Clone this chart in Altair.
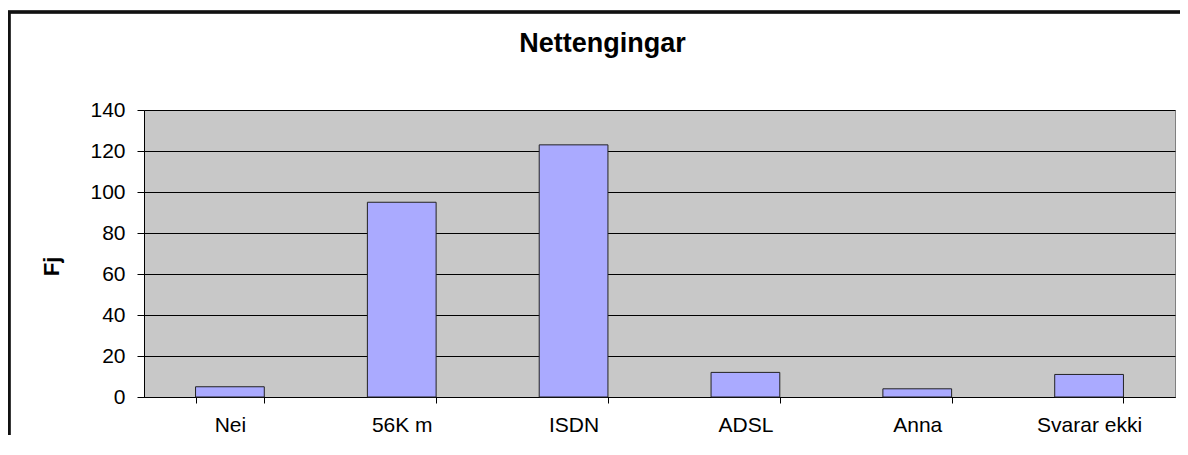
import altair as alt
import pandas as pd

categories = ["Nei", "56K m", "ISDN", "ADSL", "Anna", "Svarar ekki"]
values = [5, 95, 123, 12, 4, 11]
y_ticks = [0, 20, 40, 60, 80, 100, 120, 140]

df = pd.DataFrame({"kat": categories, "fj": values})

W, H = 1031, 287

bars = alt.Chart(df).mark_bar(
    fill="#AAAAFF", stroke="#222222", strokeWidth=1
).encode(
    x=alt.X("kat:N", sort=categories,
            scale=alt.Scale(paddingInner=0.6, paddingOuter=0.3),
            axis=alt.Axis(title=None, labelAngle=0, tickBand="extent",
                          labelFontSize=21, labelPadding=11, tickSize=6,
                          labelColor="#000", tickColor="#000", domainColor="#000",
                          labelFont="Liberation Sans", grid=False)),
    y=alt.Y("fj:Q", scale=alt.Scale(domain=[0, 140], nice=False),
            axis=alt.Axis(title="Fj", values=y_ticks, titleFontSize=22,
                          titleFont="Liberation Sans", titleFontWeight="bold",
                          titleAngle=270, titleX=-86, titleY=156,
                          titleBaseline="alphabetic", titleAlign="center",
                          labelFontSize=21, labelFont="Liberation Sans",
                          labelPadding=12, tickSize=7, labelColor="#000",
                          tickColor="#000", domainColor="#000",
                          grid=True, gridColor="#000", gridOpacity=1,
                          gridWidth=1)),
)

border = alt.Chart(df).mark_rect(
    fillOpacity=0, stroke="#111111", strokeWidth=2.5, clip=False
).encode(
    x=alt.value(-135), x2=alt.value(1120),
    y=alt.value(-98), y2=alt.value(400),
)

chart = alt.layer(bars, border).properties(
    width=W, height=H,
    background="white",
    title=alt.TitleParams("Nettengingar", fontSize=27, font="Liberation Sans",
                          fontWeight="bold", color="#000", dx=-57, dy=47,
                          offset=0, anchor="middle", frame="group"),
    autosize=alt.AutoSizeParams(type="none"),
    padding={"left": 136, "top": 102, "right": 5, "bottom": 38},
).configure_view(
    fill="#C8C8C8", stroke="#808080", strokeWidth=1
)

chart.save("out.html", embed_options={"renderer": "svg", "actions": False})
